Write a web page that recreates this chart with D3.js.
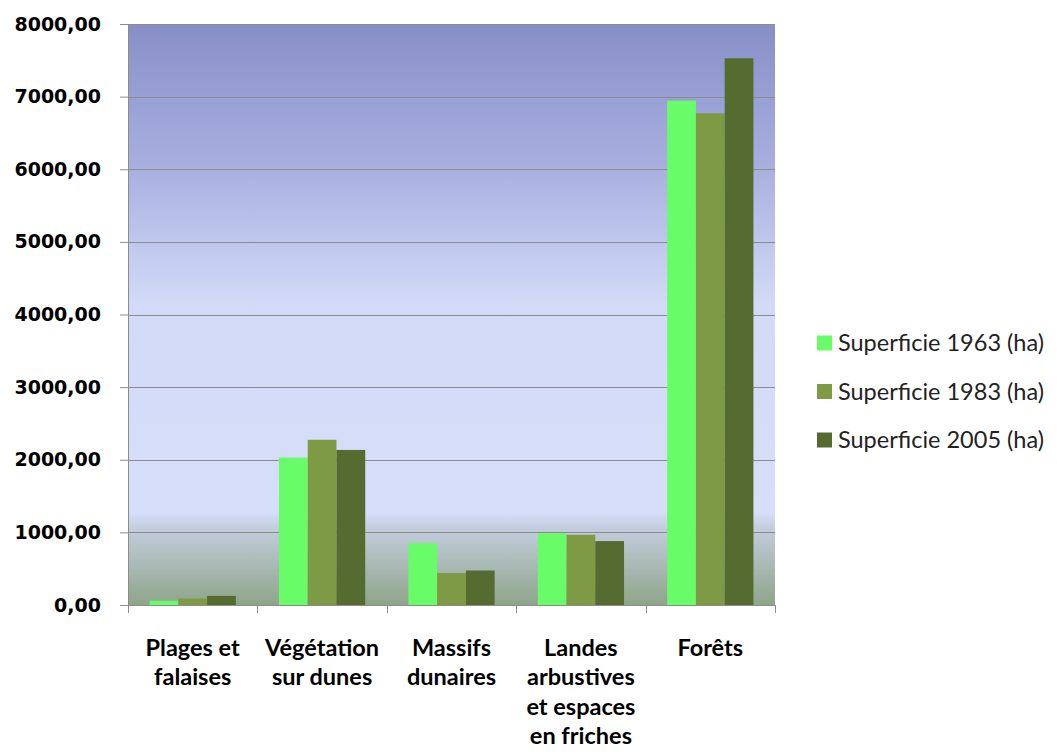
<!DOCTYPE html>
<html>
<head>
<meta charset="utf-8">
<script src="https://d3js.org/d3.v7.min.js"></script>
<style>
  body { margin: 0; background: #fff; }
</style>
</head>
<body>
<div id="chart"></div>
<script>
// categories and series (hectares)
const categories = [
  ["Plages et", "falaises"],
  ["Végétation", "sur dunes"],
  ["Massifs", "dunaires"],
  ["Landes", "arbustives", "et espaces", "en friches"],
  ["Forêts"]
];
const seriesNames = ["Superficie 1963 (ha)", "Superficie 1983 (ha)", "Superficie 2005 (ha)"];
const sup1963 = [60, 2030, 850, 990, 6945];
const sup1983 = [90, 2275, 440, 967, 6770];
const sup2005 = [125, 2135, 475, 880, 7528];
const yTicks = [0, 1000, 2000, 3000, 4000, 5000, 6000, 7000, 8000];

const colors = ["#68fd68", "#7e9a45", "#566b2f"];
const series = [sup1963, sup1983, sup2005];

const W = 1057, H = 754;
const margin = { top: 24, left: 128, right: 282, bottom: 149 };
const width = W - margin.left - margin.right;
const height = H - margin.top - margin.bottom;

const svg = d3.select("#chart").append("svg")
  .attr("width", W).attr("height", H);

// background gradient of the plot area
const defs = svg.append("defs");
const grad = defs.append("linearGradient").attr("id", "bg")
  .attr("x1", 0).attr("y1", 0).attr("x2", 0).attr("y2", 1);
[[0, "#888fc7"], [0.25, "#a9b0e0"], [0.48, "#d2daf7"], [0.84, "#d6defa"],
 [0.87, "#c2ccdc"], [1, "#8ea58a"]].forEach(s =>
  grad.append("stop").attr("offset", s[0]).attr("stop-color", s[1]));

const g = svg.append("g").attr("transform", `translate(${margin.left},${margin.top})`);

g.append("rect").attr("width", width).attr("height", height).attr("fill", "url(#bg)");

const idx = d3.range(categories.length);
const x = d3.scaleBand().domain(idx).range([0, width]).paddingInner(0).paddingOuter(0);
const y = d3.scaleLinear().domain([0, 8000]).range([height, 0]);

// gap width 150% -> bar width = band / 4.5
const barW = x.bandwidth() / 4.5;
const xSub = d3.scaleBand().domain([0, 1, 2])
  .range([barW * 0.75, x.bandwidth() - barW * 0.75]);

// gridlines
g.append("g").selectAll("line").data(yTicks.filter(t => t > 0)).join("line")
  .attr("x1", 0).attr("x2", width)
  .attr("y1", d => Math.round(y(d)) + 0.5).attr("y2", d => Math.round(y(d)) + 0.5)
  .attr("stroke", "#8c8c8c").attr("stroke-width", 1);

// bars
const groups = g.append("g").selectAll("g").data(idx).join("g")
  .attr("transform", i => `translate(${x(i)},0)`);
groups.selectAll("rect")
  .data(i => series.map((s, k) => ({ k: k, v: s[i] })))
  .join("rect")
  .attr("x", d => xSub(d.k))
  .attr("width", xSub.bandwidth())
  .attr("y", d => y(d.v))
  .attr("height", d => height - y(d.v))
  .attr("fill", d => colors[d.k]);

// y axis
const yAxis = g.append("g")
  .call(d3.axisLeft(y).tickValues(yTicks).tickSize(8)
    .tickFormat(d => d3.format(".2f")(d).replace(".", ",")));
yAxis.select(".domain").attr("stroke", "#8c8c8c").attr("d", `M0.5,0V${height}`);
yAxis.selectAll(".tick line").attr("stroke", "#8c8c8c");
yAxis.selectAll(".tick text")
  .attr("x", -27)
  .style("font-family", "'DejaVu Sans', sans-serif")
  .style("font-weight", "bold")
  .style("font-size", "19px")
  .attr("fill", "#000");

// x axis line and ticks at category boundaries
const xAxis = g.append("g").attr("transform", `translate(0,${height})`);
xAxis.append("line").attr("x1", 0).attr("x2", width).attr("y1", 0.5).attr("y2", 0.5)
  .attr("stroke", "#8c8c8c");
xAxis.selectAll("line.t").data(d3.range(categories.length + 1)).join("line")
  .attr("class", "t")
  .attr("x1", i => Math.round(i * x.bandwidth()) + 0.5)
  .attr("x2", i => Math.round(i * x.bandwidth()) + 0.5)
  .attr("y1", 0).attr("y2", 8).attr("stroke", "#8c8c8c");

// category labels
const labels = xAxis.selectAll("text").data(idx).join("text")
  .attr("x", i => x(i) + x.bandwidth() / 2)
  .attr("y", 51)
  .attr("text-anchor", "middle")
  .style("font-family", "Lato, 'Open Sans', sans-serif")
  .style("font-weight", "bold")
  .style("font-size", "23.5px")
  .attr("fill", "#000");
labels.selectAll("tspan").data(i => categories[i]).join("tspan")
  .attr("x", function () { return d3.select(this.parentNode).attr("x"); })
  .attr("dy", (d, j) => j === 0 ? 0 : 29.3)
  .text(d => d);

// legend
const legend = svg.append("g").attr("transform", "translate(817,343)");
const items = legend.selectAll("g").data(seriesNames).join("g")
  .attr("transform", (d, i) => `translate(0,${i * 48.5})`);
items.append("rect").attr("x", 0).attr("y", -7.5).attr("width", 15).attr("height", 15)
  .attr("fill", (d, i) => colors[i]);
items.append("text").attr("x", 21).attr("y", 0).attr("dy", "0.35em")
  .style("font-family", "Lato, 'Open Sans', sans-serif")
  .style("font-size", "23.5px")
  .attr("fill", "#222")
  .text(d => d);
</script>
</body>
</html>
